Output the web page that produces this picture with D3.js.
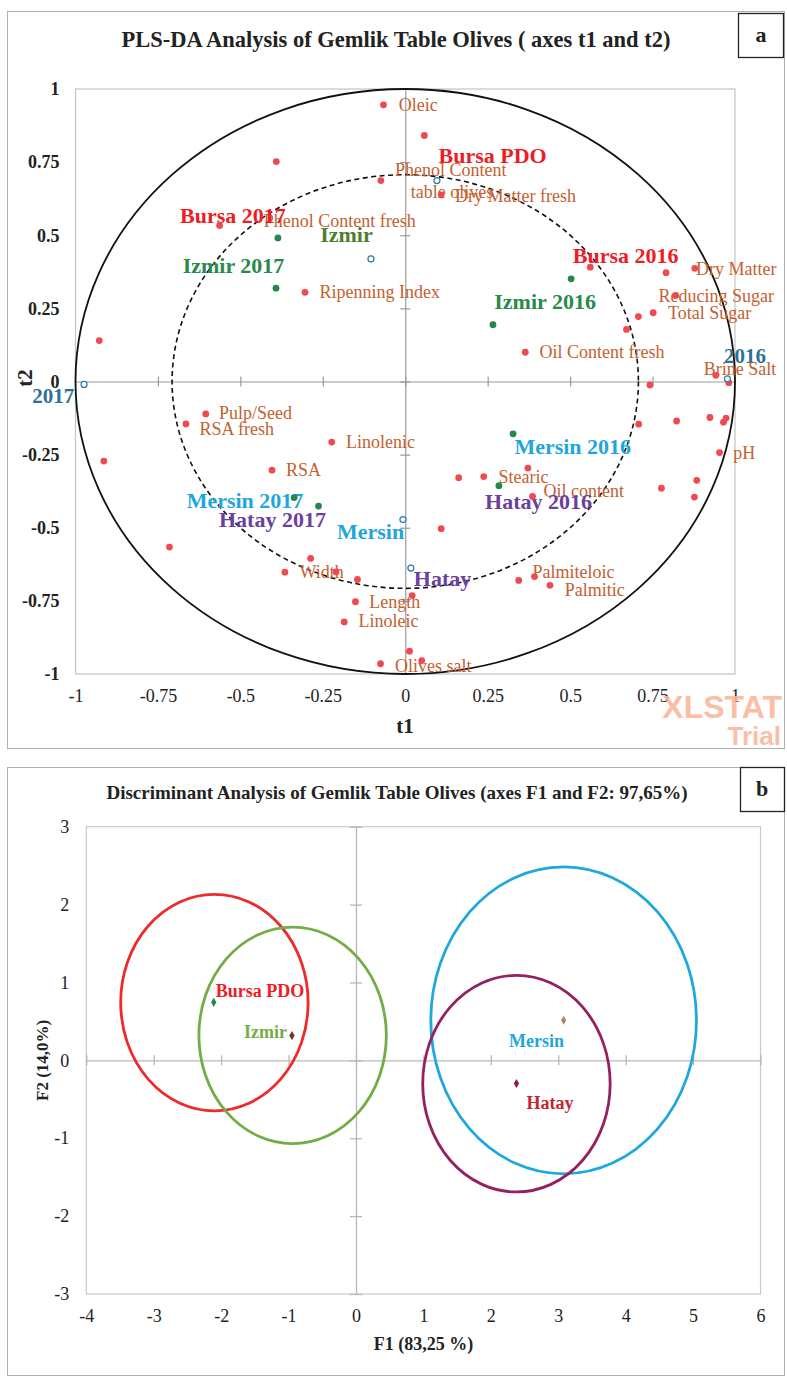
<!DOCTYPE html>
<html>
<head>
<meta charset="utf-8">
<script src="https://cdn.jsdelivr.net/npm/d3@7"></script>
<style>
  body { margin: 0; background: #fff; }
  svg { display: block; }
</style>
</head>
<body>
<div id="chart"></div>
<script>
// ---- panel a : PLS-DA correlation circle (t1 / t2) ----
// variables (red dots)
const varT1 = [-0.066, 0.058, -0.391, -0.074, 0.109, -0.563, -0.304, -0.928, 0.561, 0.791,
  0.878, 0.820, 0.752, 0.707, 0.671, 0.364, 0.942, 0.981, 0.742, -0.605,
  -0.665, -0.914, -0.223, -0.404, -0.715, -0.287, -0.365, -0.210, -0.145, -0.151,
  -0.185, -0.075, 0.708, 0.823, 0.924, 0.973, 0.965, 0.953, 0.162, 0.238,
  0.372, 0.386, 0.777, 0.884, 0.877, 0.109, 0.344, 0.392, 0.439, 0.021,
  0.013, 0.050];
const varT2 = [0.946, 0.841, 0.752, 0.687, 0.638, 0.533, 0.305, 0.140, 0.391, 0.372,
  0.387, 0.294, 0.235, 0.222, 0.178, 0.100, 0.021, -0.004, -0.012, -0.111,
  -0.145, -0.272, -0.207, -0.303, -0.566, -0.605, -0.652, -0.651, -0.677, -0.753,
  -0.822, -0.965, -0.146, -0.135, -0.123, -0.125, -0.139, -0.243, -0.329, -0.325,
  -0.296, -0.393, -0.365, -0.338, -0.395, -0.503, -0.680, -0.667, -0.697, -0.732,
  -0.922, -0.954];

// observations (green dots)
const obsT1 = [-0.386, -0.392, 0.503, 0.266, 0.327, 0.284, -0.337, -0.263];
const obsT2 = [0.491, 0.319, 0.351, 0.194, -0.179, -0.356, -0.397, -0.426];

// dummy group variables (open blue circles)
const dumT1 = [-0.104, 0.096, 0.977, -0.974, -0.007, 0.017];
const dumT2 = [0.419, 0.687, 0.009, -0.010, -0.472, -0.638];

// text labels, placed in t1/t2 units
const labelText = ["Oleic", "Bursa PDO", "Phenol Content", "table olives", "Dry Matter fresh",
  "Phenol Content fresh", "Bursa 2017", "Izmir", "Izmir 2017", "Ripenning Index",
  "Bursa 2016", "Dry Matter", "Reducing Sugar", "Total Sugar", "Izmir 2016",
  "Oil Content fresh", "2016", "Brine Salt", "2017", "Pulp/Seed",
  "RSA fresh", "Linolenic", "RSA", "Mersin 2017", "Hatay 2017",
  "Mersin", "Width", "Length", "Linoleic", "Olives salt",
  "Mersin 2016", "pH", "Stearic", "Oil content", "Hatay 2016",
  "Hatay", "Palmiteloic", "Palmitic"];
const labelT1 = [-0.020, 0.101, -0.031, 0.017, 0.151,
  -0.429, -0.683, -0.258, -0.675, -0.260,
  0.508, 0.882, 0.768, 0.797, 0.270,
  0.407, 0.967, 0.905, -1.131, -0.565,
  -0.624, -0.180, -0.362, -0.663, -0.565,
  -0.207, -0.321, -0.109, -0.142, -0.031,
  0.331, 0.995, 0.283, 0.419, 0.242,
  0.026, 0.386, 0.484];
const labelT2 = [0.924, 0.747, 0.703, 0.628, 0.615,
  0.529, 0.543, 0.476, 0.372, 0.284,
  0.404, 0.364, 0.273, 0.213, 0.247,
  0.079, 0.064, 0.022, -0.075, -0.129,
  -0.183, -0.228, -0.323, -0.434, -0.496,
  -0.539, -0.673, -0.775, -0.840, -0.992,
  -0.248, -0.266, -0.346, -0.396, -0.437,
  -0.699, -0.673, -0.732];
const labelKind = ["var", "bursa", "var", "var", "var",
  "var", "bursa", "izmir", "izmirY", "var",
  "bursa", "var", "var", "var", "izmirY",
  "var", "year", "var", "year", "var",
  "var", "var", "var", "mersin", "hatay",
  "mersin", "var", "var", "var", "var",
  "mersin", "var", "var", "var", "hatay",
  "hatay", "var", "var"];

const tTicks = [-1, -0.75, -0.5, -0.25, 0, 0.25, 0.5, 0.75, 1];

// ---- panel b : discriminant analysis (F1 / F2) ----
const groups = ["Bursa PDO", "Izmir", "Mersin", "Hatay"];
const centF1 = [-2.11, -0.95, 3.08, 2.38];
const centF2 = [0.745, 0.318, 0.515, -0.298];
const ringF1 = [-2.10, -0.94, 3.08, 2.38];
const ringF2 = [0.742, 0.321, 0.513, -0.300];
const ringR = [1.39, 1.39, 1.97, 1.39];
const fLabF1 = [-2.08, -1.66, 2.27, 2.53];
const fLabF2 = [0.81, 0.29, 0.17, -0.63];

const f1Ticks = [-4, -3, -2, -1, 0, 1, 2, 3, 4, 5, 6];
const f2Ticks = [-3, -2, -1, 0, 1, 2, 3];

const kindColor = {
  var: "#c3612f", bursa: "#ee1c25", izmir: "#4f7f2d", izmirY: "#2a8a4a",
  mersin: "#1fa6dc", hatay: "#6b3fa0", year: "#2f7196"
};
const ringColor = ["#ee2a2a", "#72ad48", "#1ea8dd", "#952060"];
const centColor = ["#1f8a55", "#6b3a1f", "#b08a5a", "#8e1a50"];
const fLabColor = ["#ee1c25", "#72ad48", "#1fa6dc", "#c0282d"];

const SERIF = "Liberation Serif, Times New Roman, serif";
const W = 787, H = 1377;
const svg = d3.select("#chart").append("svg")
  .attr("width", W).attr("height", H)
  .attr("font-family", SERIF);
svg.append("rect").attr("width", W).attr("height", H).attr("fill", "#fff");

const fmt = d => String(d);

// ================= panel a =================
const pa = svg.append("g");
pa.append("rect").attr("x", 7.5).attr("y", 11.5).attr("width", 777).attr("height", 737)
  .attr("fill", "none").attr("stroke", "#b0b0b0");
pa.append("rect").attr("x", 738.5).attr("y", 13.5).attr("width", 45).attr("height", 44)
  .attr("fill", "#fff").attr("stroke", "#222").attr("stroke-width", 1.3);
pa.append("text").attr("x", 761).attr("y", 42).attr("text-anchor", "middle")
  .attr("font-size", 22).attr("font-weight", "bold").attr("fill", "#222").text("a");
pa.append("text").attr("x", 396).attr("y", 47).attr("text-anchor", "middle")
  .attr("font-size", 22.5).attr("font-weight", "bold").attr("fill", "#222")
  .text("PLS-DA Analysis of Gemlik Table Olives ( axes t1 and t2)");

const x = d3.scaleLinear().domain([-1, 1]).range([75.5, 735]);
const y = d3.scaleLinear().domain([-1, 1]).range([674, 89]);

pa.append("rect").attr("x", x(-1)).attr("y", y(1))
  .attr("width", x(1) - x(-1)).attr("height", y(-1) - y(1))
  .attr("fill", "none").attr("stroke", "#c4c4c4").attr("stroke-width", 1.2);

// zero axes with crossing ticks
const gx0 = pa.append("g").attr("transform", `translate(0,${y(0)})`)
  .call(d3.axisBottom(x).tickValues(tTicks.filter(d => Math.abs(d) < 1)).tickFormat("").tickSizeOuter(0));
const gy0 = pa.append("g").attr("transform", `translate(${x(0)},0)`)
  .call(d3.axisLeft(y).tickValues(tTicks.filter(d => Math.abs(d) < 1)).tickFormat("").tickSizeOuter(0));
[gx0, gy0].forEach(g => {
  g.select(".domain").attr("stroke", "#9a9a9a").attr("stroke-width", 1.2);
  g.selectAll(".tick line").attr("stroke", "#9a9a9a").attr("stroke-width", 1.2);
});
gx0.selectAll(".tick line").attr("y1", -5).attr("y2", 5);
gy0.selectAll(".tick line").attr("x1", -5).attr("x2", 5);

// edge labels
const gyl = pa.append("g").attr("transform", `translate(${x(-1)},0)`)
  .call(d3.axisLeft(y).tickValues(tTicks).tickFormat(fmt).tickSize(0).tickPadding(16));
gyl.select(".domain").remove();
gyl.attr("font-family", SERIF).attr("font-size", 18).attr("font-weight", "bold");
gyl.selectAll("text").attr("fill", "#222");
const gxl = pa.append("g").attr("transform", `translate(0,${y(-1)})`)
  .call(d3.axisBottom(x).tickValues(tTicks).tickFormat(fmt).tickSize(0).tickPadding(15));
gxl.select(".domain").remove();
gxl.attr("font-family", SERIF).attr("font-size", 18);
gxl.selectAll("text").attr("fill", "#222");

pa.append("text").attr("x", 405).attr("y", 733).attr("text-anchor", "middle")
  .attr("font-size", 21).attr("font-weight", "bold").attr("fill", "#222").text("t1");
pa.append("text").attr("transform", "translate(25,378) rotate(-90)").attr("dy", "0.35em")
  .attr("text-anchor", "middle").attr("font-size", 21).attr("font-weight", "bold")
  .attr("fill", "#222").text("t2");

// correlation circles
pa.append("ellipse").attr("cx", x(0)).attr("cy", y(0))
  .attr("rx", x(1) - x(0)).attr("ry", y(0) - y(1))
  .attr("fill", "none").attr("stroke", "#111").attr("stroke-width", 1.8);
pa.append("ellipse").attr("cx", x(0)).attr("cy", y(0))
  .attr("rx", x(Math.SQRT1_2) - x(0)).attr("ry", y(0) - y(Math.SQRT1_2))
  .attr("fill", "none").attr("stroke", "#111").attr("stroke-width", 1.6)
  .attr("stroke-dasharray", "5,3.5");

// labels
pa.append("g").selectAll("text").data(labelText).join("text")
  .attr("x", (d, i) => x(labelT1[i]))
  .attr("y", (d, i) => y(labelT2[i]))
  .attr("fill", (d, i) => kindColor[labelKind[i]])
  .attr("font-size", (d, i) => labelKind[i] === "var" ? 18 : labelKind[i] === "year" ? 21 : 22)
  .attr("font-weight", (d, i) => labelKind[i] === "var" ? "normal" : "bold")
  .text(d => d);

// points
pa.append("g").selectAll("circle").data(varT1).join("circle")
  .attr("cx", d => x(d)).attr("cy", (d, i) => y(varT2[i])).attr("r", 3.4)
  .attr("fill", "#f04a50");
pa.append("g").selectAll("circle").data(obsT1).join("circle")
  .attr("cx", d => x(d)).attr("cy", (d, i) => y(obsT2[i])).attr("r", 3.4)
  .attr("fill", "#25874a");
pa.append("g").selectAll("circle").data(dumT1).join("circle")
  .attr("cx", d => x(d)).attr("cy", (d, i) => y(dumT2[i])).attr("r", 3)
  .attr("fill", "#fff").attr("stroke", "#2e77a8").attr("stroke-width", 1.2);

// watermark
pa.append("text").attr("x", 782).attr("y", 718).attr("text-anchor", "end")
  .attr("font-family", "Liberation Sans, Arial, sans-serif").attr("font-weight", "bold")
  .attr("font-size", 32).attr("fill", "#fbb59b").attr("fill-opacity", 0.9).text("XLSTAT");
pa.append("text").attr("x", 781).attr("y", 745).attr("text-anchor", "end")
  .attr("font-family", "Liberation Sans, Arial, sans-serif").attr("font-weight", "bold")
  .attr("font-size", 26)
  .attr("fill", "#fbb59b").attr("fill-opacity", 0.9).text("Trial");

// ================= panel b =================
const pb = svg.append("g");
pb.append("rect").attr("x", 7.5).attr("y", 767.5).attr("width", 777).attr("height", 608)
  .attr("fill", "none").attr("stroke", "#b0b0b0");
pb.append("rect").attr("x", 740.5).attr("y", 767.5).attr("width", 44).attr("height", 44)
  .attr("fill", "#fff").attr("stroke", "#222").attr("stroke-width", 1.3);
pb.append("text").attr("x", 762).attr("y", 796).attr("text-anchor", "middle")
  .attr("font-size", 22).attr("font-weight", "bold").attr("fill", "#222").text("b");
pb.append("text").attr("x", 397).attr("y", 799).attr("text-anchor", "middle")
  .attr("font-size", 19).attr("font-weight", "bold").attr("fill", "#222")
  .text("Discriminant Analysis of Gemlik Table Olives (axes F1 and F2: 97,65%)");

const fx = d3.scaleLinear().domain([-4, 6]).range([86.3, 760.5]);
const fy = d3.scaleLinear().domain([-3, 3]).range([1294, 826.7]);

pb.append("rect").attr("x", fx(-4)).attr("y", fy(3))
  .attr("width", fx(6) - fx(-4)).attr("height", fy(-3) - fy(3))
  .attr("fill", "none").attr("stroke", "#c8c8c8").attr("stroke-width", 1.2);

const fx0 = pb.append("g").attr("transform", `translate(0,${fy(0)})`)
  .call(d3.axisBottom(fx).tickValues(f1Ticks).tickFormat("").tickSizeOuter(0));
const fy0 = pb.append("g").attr("transform", `translate(${fx(0)},0)`)
  .call(d3.axisLeft(fy).tickValues(f2Ticks).tickFormat("").tickSizeOuter(0));
[fx0, fy0].forEach(g => {
  g.select(".domain").attr("stroke", "#b8b8b8").attr("stroke-width", 1.3);
  g.selectAll(".tick line").attr("stroke", "#b8b8b8").attr("stroke-width", 1.3);
});
fx0.selectAll(".tick line").attr("y1", -5).attr("y2", 5);
fy0.selectAll(".tick line").attr("x1", -6).attr("x2", 6);

const fyl = pb.append("g").attr("transform", `translate(${fx(-4)},0)`)
  .call(d3.axisLeft(fy).tickValues(f2Ticks).tickFormat(fmt).tickSize(0).tickPadding(17));
fyl.select(".domain").remove();
fyl.attr("font-family", SERIF).attr("font-size", 18);
fyl.selectAll("text").attr("fill", "#222");
const fxl = pb.append("g").attr("transform", `translate(0,${fy(-3)})`)
  .call(d3.axisBottom(fx).tickValues(f1Ticks).tickFormat(fmt).tickSize(0).tickPadding(15));
fxl.select(".domain").remove();
fxl.attr("font-family", SERIF).attr("font-size", 18);
fxl.selectAll("text").attr("fill", "#222");

pb.append("text").attr("x", (fx(-4) + fx(6)) / 2).attr("y", 1350).attr("text-anchor", "middle")
  .attr("font-size", 18).attr("font-weight", "bold").attr("fill", "#222").text("F1 (83,25 %)");
pb.append("text").attr("transform", `translate(42,${(fy(3) + fy(-3)) / 2}) rotate(-90)`)
  .attr("dy", "0.35em").attr("text-anchor", "middle")
  .attr("font-size", 17).attr("font-weight", "bold").attr("fill", "#222").text("F2 (14,0%)");

// confidence circles
pb.append("g").selectAll("ellipse").data(groups).join("ellipse")
  .attr("cx", (d, i) => fx(ringF1[i])).attr("cy", (d, i) => fy(ringF2[i]))
  .attr("rx", (d, i) => fx(ringR[i]) - fx(0)).attr("ry", (d, i) => fy(0) - fy(ringR[i]))
  .attr("fill", "none").attr("stroke", (d, i) => ringColor[i]).attr("stroke-width", 2.8);

// centroids
pb.append("g").selectAll("path").data(groups).join("path")
  .attr("transform", (d, i) => `translate(${fx(centF1[i])},${fy(centF2[i])})`)
  .attr("d", d3.symbol(d3.symbolDiamond).size(24))
  .attr("fill", (d, i) => centColor[i]);

pb.append("g").selectAll("text").data(groups).join("text")
  .attr("x", (d, i) => fx(fLabF1[i])).attr("y", (d, i) => fy(fLabF2[i]))
  .attr("font-size", 18).attr("font-weight", "bold")
  .attr("fill", (d, i) => fLabColor[i]).text(d => d);
</script>
</body>
</html>
